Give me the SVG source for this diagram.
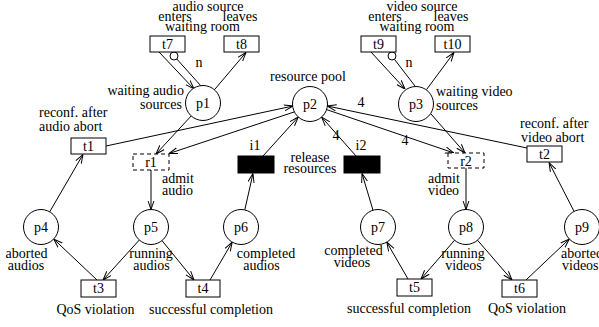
<svg xmlns="http://www.w3.org/2000/svg" width="599" height="327" viewBox="0 0 599 327">
  <style>
    text { font-family: "Liberation Serif", "Times New Roman", serif; font-size: 14px; fill: #000; }
    .m { text-anchor: middle; }
    .e { text-anchor: end; }
    .place { fill: #fff; stroke: #000; stroke-width: 1; }
    .trans { fill: #fff; stroke: #000; stroke-width: 1; }
    .imm { fill: #000; stroke: #000; stroke-width: 1; }
    .dash { fill: #fff; stroke: #000; stroke-width: 1; stroke-dasharray: 4 3; }
    .arc { fill: none; stroke: #000; stroke-width: 1; }
    .arr { marker-end: url(#head); }
  </style>
  <defs>
    <marker id="head" viewBox="0 0 10 10" refX="10" refY="5" markerWidth="9" markerHeight="9" markerUnits="userSpaceOnUse" orient="auto">
      <path d="M0,1.6 L10,5 L0,8.4" fill="none" stroke="#000" stroke-width="1.1"/>
    </marker>
  </defs>
  <rect width="599" height="327" fill="#fff"/>

  <!-- connectors -->
  <g id="arcs">
    <!-- audio waiting room -->
    <line class="arc arr" x1="159" y1="52" x2="194" y2="89"/>
    <line class="arc" x1="176.8" y1="59" x2="201" y2="86"/>
    <circle class="arc" cx="174" cy="56" r="4"/>
    <line class="arc arr" x1="214.4" y1="89.8" x2="246" y2="52.5"/>
    <!-- admission audio -->
    <line class="arc arr" x1="191.2" y1="115.9" x2="156" y2="154"/>
    <line class="arc arr" x1="294" y1="112" x2="169" y2="153.5"/>
    <line class="arc arr" x1="106" y1="146" x2="293" y2="106"/>
    <line class="arc arr" x1="49.7" y1="211.8" x2="83" y2="154.5"/>
    <line class="arc arr" x1="151" y1="170" x2="151" y2="209.5"/>
    <line class="arc arr" x1="139.3" y1="240" x2="103" y2="280"/>
    <line class="arc arr" x1="97" y1="280" x2="53.7" y2="239"/>
    <line class="arc arr" x1="162" y1="240.6" x2="194" y2="280"/>
    <line class="arc arr" x1="210" y1="280" x2="232.2" y2="242.1"/>
    <line class="arc arr" x1="244.8" y1="209.9" x2="253" y2="173.5"/>
    <line class="arc arr" x1="263" y1="156" x2="298.3" y2="117"/>
    <!-- video side -->
    <line class="arc arr" x1="356" y1="156" x2="321.6" y2="117.1"/>
    <line class="arc arr" x1="373" y1="210.2" x2="362" y2="173.5"/>
    <line class="arc arr" x1="408" y1="279" x2="386.8" y2="242.2"/>
    <line class="arc arr" x1="454.6" y1="240.2" x2="421" y2="279"/>
    <line class="arc arr" x1="477.5" y1="240.2" x2="512" y2="280"/>
    <line class="arc arr" x1="526" y1="280" x2="569.3" y2="239"/>
    <line class="arc arr" x1="574.1" y1="211.4" x2="549" y2="162.5"/>
    <line class="arc arr" x1="466" y1="168" x2="466" y2="209.5"/>
    <line class="arc arr" x1="431" y1="114" x2="465" y2="153"/>
    <line class="arc arr" x1="326.6" y1="109.6" x2="454" y2="153"/>
    <line class="arc arr" x1="527" y1="148" x2="327.3" y2="106"/>
    <!-- video waiting room -->
    <line class="arc arr" x1="371" y1="52" x2="405" y2="89"/>
    <line class="arc" x1="394.6" y1="59.5" x2="415" y2="86"/>
    <circle class="arc" cx="392" cy="56" r="4"/>
    <line class="arc arr" x1="426.3" y1="89.9" x2="454" y2="52.5"/>
    <!-- arc weights -->
    <text class="m" x="199" y="67">n</text>
    <text class="m" x="409" y="67">n</text>
    <text class="m" x="336" y="140">4</text>
    <text class="m" x="361" y="107">4</text>
    <text class="m" x="405" y="145">4</text>
  </g>

  <!-- places -->
  <g id="p1">
    <circle class="place" cx="203" cy="103" r="17.5"/>
    <text class="m" x="203" y="108">p1</text>
    <text class="e" x="184" y="95">waiting audio</text>
    <text class="e" x="182" y="109">sources</text>
  </g>
  <g id="p2">
    <circle class="place" cx="310" cy="104" r="17.5"/>
    <text class="m" x="310" y="109">p2</text>
    <text class="m" x="308" y="81">resource pool</text>
  </g>
  <g id="p3">
    <circle class="place" cx="416" cy="104" r="17.5"/>
    <text class="m" x="416" y="109">p3</text>
    <text x="436" y="96">waiting video</text>
    <text x="436" y="110">sources</text>
  </g>
  <g id="p4">
    <circle class="place" cx="41" cy="227" r="17.5"/>
    <text class="m" x="41" y="232">p4</text>
    <text class="m" x="26.5" y="258">aborted</text>
    <text class="m" x="26" y="270">audios</text>
  </g>
  <g id="p5">
    <circle class="place" cx="151" cy="227" r="17.5"/>
    <text class="m" x="151" y="232">p5</text>
    <text class="m" x="151" y="258">running</text>
    <text class="m" x="151.5" y="270">audios</text>
  </g>
  <g id="p6">
    <circle class="place" cx="241" cy="227" r="17.5"/>
    <text class="m" x="241" y="232">p6</text>
    <text class="m" x="266" y="258">completed</text>
    <text class="m" x="261.5" y="270">audios</text>
  </g>
  <g id="p7">
    <circle class="place" cx="378" cy="227" r="17.5"/>
    <text class="m" x="378" y="232">p7</text>
    <text class="m" x="353.5" y="255">completed</text>
    <text class="m" x="352" y="267">videos</text>
  </g>
  <g id="p8">
    <circle class="place" cx="466" cy="227" r="17.5"/>
    <text class="m" x="466" y="232">p8</text>
    <text class="m" x="463" y="258">running</text>
    <text class="m" x="463.5" y="270">videos</text>
  </g>
  <g id="p9">
    <circle class="place" cx="582" cy="227" r="17.5"/>
    <text class="m" x="582" y="232">p9</text>
    <text x="561" y="258">aborted</text>
    <text x="562" y="270">videos</text>
  </g>

  <!-- transitions -->
  <g id="t7">
    <rect class="trans" x="150" y="36" width="35" height="16"/>
    <text class="m" x="167.5" y="49">t7</text>
    <text class="m" x="208" y="11">audio source</text>
    <text class="m" x="175" y="20.5">enters</text>
    <text class="m" x="202.5" y="30.5">waiting room</text>
  </g>
  <g id="t8">
    <rect class="trans" x="224" y="36" width="35" height="16"/>
    <text class="m" x="241.5" y="49">t8</text>
    <text class="m" x="240" y="20.5">leaves</text>
  </g>
  <g id="t9">
    <rect class="trans" x="361" y="36" width="35" height="16"/>
    <text class="m" x="378.5" y="49">t9</text>
    <text class="m" x="422" y="11">video source</text>
    <text class="m" x="385" y="20.5">enters</text>
    <text class="m" x="417" y="30.5">waiting room</text>
  </g>
  <g id="t10">
    <rect class="trans" x="435" y="36" width="35" height="16"/>
    <text class="m" x="452.5" y="49">t10</text>
    <text class="m" x="451" y="20.5">leaves</text>
  </g>
  <g id="t1">
    <rect class="trans" x="71" y="138" width="35" height="16"/>
    <text class="m" x="88.5" y="151">t1</text>
    <text x="39" y="117">reconf. after</text>
    <text x="39" y="131">audio abort</text>
  </g>
  <g id="t2">
    <rect class="trans" x="527" y="146" width="35" height="16"/>
    <text class="m" x="544.5" y="159">t2</text>
    <text x="520" y="128">reconf. after</text>
    <text x="521" y="142">video abort</text>
  </g>
  <g id="r1">
    <rect class="dash" x="133" y="154" width="36" height="16"/>
    <text class="m" x="151" y="167">r1</text>
    <text x="162" y="183">admit</text>
    <text x="162" y="195">audio</text>
  </g>
  <g id="r2">
    <rect class="dash" x="448" y="153" width="36" height="15"/>
    <text class="m" x="466" y="166">r2</text>
    <text x="428" y="183">admit</text>
    <text x="428" y="195">video</text>
  </g>
  <g id="i1">
    <rect class="imm" x="238" y="156" width="36" height="17"/>
    <text class="m" x="255" y="150">i1</text>
  </g>
  <g id="i2">
    <rect class="imm" x="344" y="156" width="36" height="17"/>
    <text class="m" x="361" y="150">i2</text>
  </g>
  <g id="release-label">
    <text class="m" x="310" y="162">release</text>
    <text class="m" x="310" y="173">resources</text>
  </g>
  <g id="t3">
    <rect class="trans" x="81" y="280" width="35" height="17"/>
    <text class="m" x="98.5" y="293">t3</text>
    <text class="m" x="95.5" y="314">QoS violation</text>
  </g>
  <g id="t4">
    <rect class="trans" x="186" y="280" width="34" height="17"/>
    <text class="m" x="203" y="293">t4</text>
    <text class="m" x="211" y="314">successful completion</text>
  </g>
  <g id="t5">
    <rect class="trans" x="397" y="279" width="35" height="17"/>
    <text class="m" x="414.5" y="292">t5</text>
    <text class="m" x="409" y="313">successful completion</text>
  </g>
  <g id="t6">
    <rect class="trans" x="502" y="280" width="35" height="17"/>
    <text class="m" x="519.5" y="293">t6</text>
    <text class="m" x="527" y="313">QoS violation</text>
  </g>
</svg>
